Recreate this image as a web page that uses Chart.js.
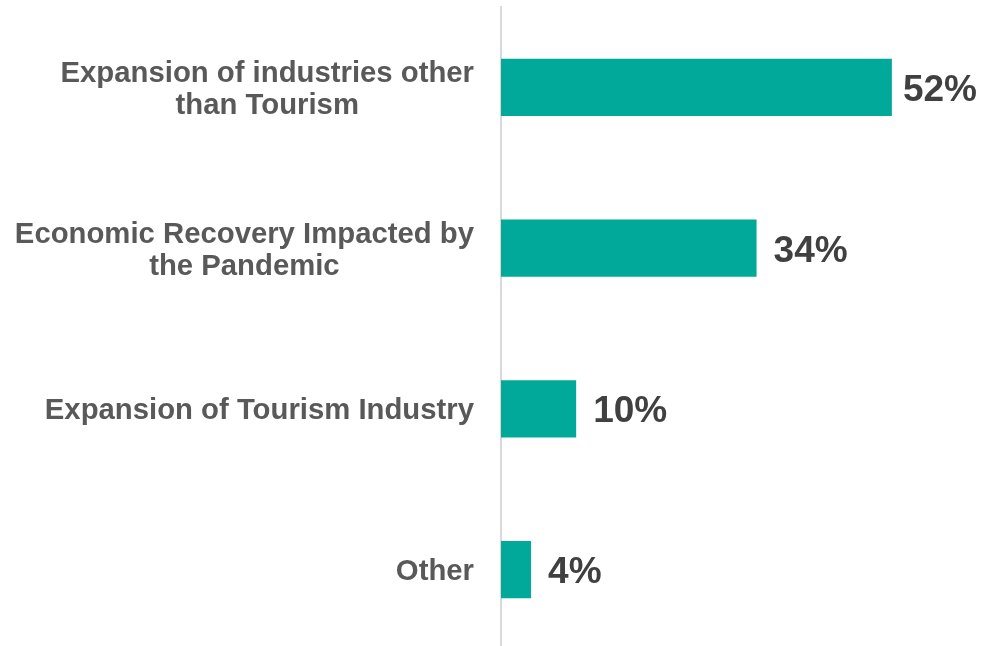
<!DOCTYPE html>
<html>
<head>
<meta charset="utf-8">
<script src="https://cdn.jsdelivr.net/npm/chart.js@4"></script>
<style>
  html, body { margin: 0; padding: 0; background: #fff; overflow: hidden; }
  #wrap { width: 985px; height: 650px; }
</style>
</head>
<body>
<div id="wrap"><canvas id="myChart"></canvas></div>
<script>
// 카테고리와 값
const categories = [
  ['Expansion of industries other', 'than Tourism'],
  ['Economic Recovery Impacted by', 'the Pandemic'],
  'Expansion of Tourism Industry',
  'Other'
];
const shares = [52, 34, 10, 4];

const barColor = '#00A99A';
const fontFamily = '"Liberation Sans", Arial, sans-serif';
const labelSize = 29.3;
const labelLineGap = 32;
const labelPadding = 27;

// 카테고리 라벨: 블록은 오른쪽 정렬, 줄은 가운데 정렬
const categoryLabels = {
  id: 'categoryLabels',
  afterDraw(chart) {
    const c = chart.ctx;
    const yScale = chart.scales.y;
    const right = yScale.right - labelPadding;
    c.save();
    c.font = 'bold ' + labelSize + 'px ' + fontFamily;
    c.fillStyle = '#595959';
    c.textAlign = 'center';
    c.textBaseline = 'alphabetic';
    chart.data.labels.forEach((label, i) => {
      const lines = Array.isArray(label) ? label : [label];
      const maxW = Math.max(...lines.map(l => c.measureText(l).width));
      const cx = right - maxW / 2;
      const cy = yScale.getPixelForTick(i);
      lines.forEach((line, j) => {
        const ly = cy + (j - (lines.length - 1) / 2) * labelLineGap;
        c.fillText(line, cx, ly + 10.5);
      });
    });
    c.restore();
  }
};

// 막대 끝에 퍼센트 값 표시
const valueLabels = {
  id: 'valueLabels',
  afterDatasetsDraw(chart) {
    const c = chart.ctx;
    const meta = chart.getDatasetMeta(0);
    c.save();
    c.font = 'bold 37px ' + fontFamily;
    c.fillStyle = '#404040';
    c.textAlign = 'left';
    c.textBaseline = 'alphabetic';
    meta.data.forEach((bar, i) => {
      const text = shares[i] + '%';
      const w = c.measureText(text).width;
      // 오른쪽 끝을 넘으면 안쪽으로 당김
      const x = Math.min(bar.x + 17, chart.width - 8 - w);
      c.fillText(text, x, bar.y + 13.5);
    });
    c.restore();
  }
};

const ctx = document.getElementById('myChart');
const chart = new Chart(ctx, {
  type: 'bar',
  data: {
    labels: categories,
    datasets: [{
      data: shares,
      backgroundColor: barColor,
      borderWidth: 0,
      barPercentage: 0.355,
      categoryPercentage: 1
    }]
  },
  options: {
    indexAxis: 'y',
    responsive: true,
    maintainAspectRatio: false,
    animation: false,
    layout: { padding: { top: 7, right: 33, bottom: 0, left: 0 } },
    plugins: {
      legend: { display: false },
      tooltip: { enabled: false }
    },
    scales: {
      x: {
        display: false,
        min: 0,
        max: 60
      },
      y: {
        grid: { display: false, drawTicks: false },
        border: { display: true, color: '#D9D9D9', width: 2 },
        // 축 너비 고정, 위아래 여백 제거
        afterFit(scale) {
          scale.width = 501;
          scale.paddingTop = 0;
          scale.paddingBottom = 0;
        },
        ticks: { display: false }
      }
    }
  },
  plugins: [valueLabels, categoryLabels]
});
</script>
</body>
</html>
